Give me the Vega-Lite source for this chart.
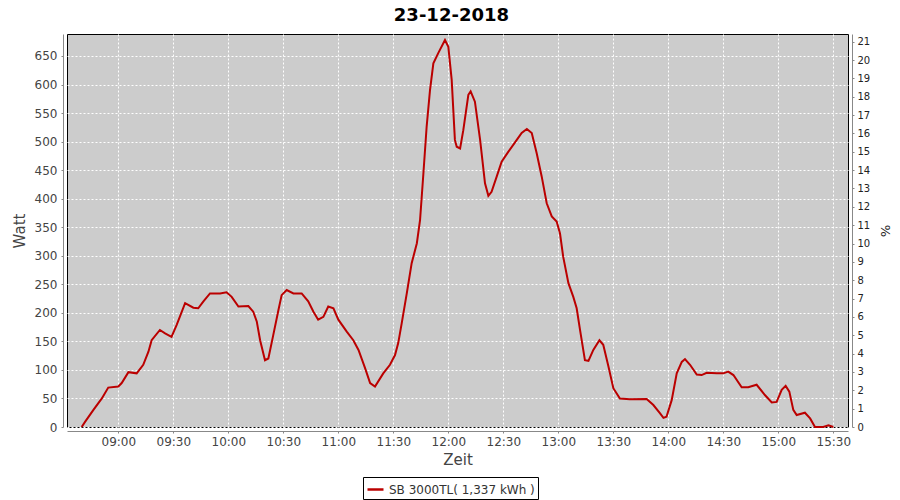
{
  "$schema": "https://vega.github.io/schema/vega-lite/v6.json",
  "autosize": "none",
  "width": 781,
  "height": 393,
  "padding": {"left": 67, "top": 34, "right": 52, "bottom": 73},
  "background": "white",
  "title": {"text": "23-12-2018", "font": "DejaVu Sans", "fontSize": 18, "fontWeight": "bold", "color": "black", "anchor": "middle", "frame": "bounds", "offset": 6},
  "config": {
    "view": {"fill": "#CCCCCC", "stroke": "black", "strokeWidth": 1},
    "axis": {"labelFont": "DejaVu Sans", "titleFont": "DejaVu Sans", "domainColor": "#888888", "tickColor": "#888888", "gridColor": "white", "gridDash": [2, 2], "gridOpacity": 1, "gridWidth": 1}
  },
  "layer": [
    {
      "data": {"values": [
        {"time": "2018-12-23T08:40:00", "watt": 0},
        {"time": "2018-12-23T08:41:50", "watt": 9},
        {"time": "2018-12-23T08:46:25", "watt": 30},
        {"time": "2018-12-23T08:51:00", "watt": 50},
        {"time": "2018-12-23T08:54:30", "watt": 69},
        {"time": "2018-12-23T09:00:00", "watt": 71},
        {"time": "2018-12-23T09:01:50", "watt": 77},
        {"time": "2018-12-23T09:05:30", "watt": 96},
        {"time": "2018-12-23T09:10:00", "watt": 94},
        {"time": "2018-12-23T09:13:35", "watt": 109},
        {"time": "2018-12-23T09:16:25", "watt": 132},
        {"time": "2018-12-23T09:18:10", "watt": 152},
        {"time": "2018-12-23T09:22:40", "watt": 170},
        {"time": "2018-12-23T09:25:30", "watt": 164},
        {"time": "2018-12-23T09:29:00", "watt": 158},
        {"time": "2018-12-23T09:31:50", "watt": 179},
        {"time": "2018-12-23T09:36:25", "watt": 217},
        {"time": "2018-12-23T09:40:55", "watt": 209},
        {"time": "2018-12-23T09:43:35", "watt": 208},
        {"time": "2018-12-23T09:46:25", "watt": 220},
        {"time": "2018-12-23T09:50:00", "watt": 234},
        {"time": "2018-12-23T09:55:30", "watt": 234},
        {"time": "2018-12-23T09:59:00", "watt": 236},
        {"time": "2018-12-23T10:01:50", "watt": 228},
        {"time": "2018-12-23T10:05:30", "watt": 211},
        {"time": "2018-12-23T10:10:55", "watt": 212},
        {"time": "2018-12-23T10:13:35", "watt": 202},
        {"time": "2018-12-23T10:15:30", "watt": 185},
        {"time": "2018-12-23T10:17:20", "watt": 152},
        {"time": "2018-12-23T10:20:00", "watt": 117},
        {"time": "2018-12-23T10:21:50", "watt": 120},
        {"time": "2018-12-23T10:24:30", "watt": 161},
        {"time": "2018-12-23T10:27:20", "watt": 205},
        {"time": "2018-12-23T10:29:05", "watt": 231},
        {"time": "2018-12-23T10:31:50", "watt": 240},
        {"time": "2018-12-23T10:35:30", "watt": 234},
        {"time": "2018-12-23T10:40:00", "watt": 234},
        {"time": "2018-12-23T10:43:35", "watt": 220},
        {"time": "2018-12-23T10:46:25", "watt": 202},
        {"time": "2018-12-23T10:49:00", "watt": 188},
        {"time": "2018-12-23T10:51:50", "watt": 193},
        {"time": "2018-12-23T10:54:30", "watt": 211},
        {"time": "2018-12-23T10:57:20", "watt": 208},
        {"time": "2018-12-23T11:00:00", "watt": 188},
        {"time": "2018-12-23T11:04:35", "watt": 167},
        {"time": "2018-12-23T11:08:10", "watt": 152},
        {"time": "2018-12-23T11:11:00", "watt": 135},
        {"time": "2018-12-23T11:14:35", "watt": 103},
        {"time": "2018-12-23T11:17:20", "watt": 77},
        {"time": "2018-12-23T11:20:00", "watt": 71},
        {"time": "2018-12-23T11:24:30", "watt": 94},
        {"time": "2018-12-23T11:28:10", "watt": 109},
        {"time": "2018-12-23T11:30:55", "watt": 126},
        {"time": "2018-12-23T11:32:40", "watt": 147},
        {"time": "2018-12-23T11:34:35", "watt": 182},
        {"time": "2018-12-23T11:37:20", "watt": 234},
        {"time": "2018-12-23T11:40:00", "watt": 287},
        {"time": "2018-12-23T11:42:50", "watt": 322},
        {"time": "2018-12-23T11:44:35", "watt": 363},
        {"time": "2018-12-23T11:46:25", "watt": 445},
        {"time": "2018-12-23T11:48:10", "watt": 526},
        {"time": "2018-12-23T11:50:00", "watt": 590},
        {"time": "2018-12-23T11:51:50", "watt": 637},
        {"time": "2018-12-23T11:54:30", "watt": 655},
        {"time": "2018-12-23T11:58:10", "watt": 678},
        {"time": "2018-12-23T12:00:00", "watt": 666},
        {"time": "2018-12-23T12:01:50", "watt": 608},
        {"time": "2018-12-23T12:03:35", "watt": 503},
        {"time": "2018-12-23T12:04:35", "watt": 491},
        {"time": "2018-12-23T12:06:25", "watt": 488},
        {"time": "2018-12-23T12:08:10", "watt": 520},
        {"time": "2018-12-23T12:10:55", "watt": 582},
        {"time": "2018-12-23T12:12:10", "watt": 588},
        {"time": "2018-12-23T12:14:30", "watt": 570},
        {"time": "2018-12-23T12:17:20", "watt": 503},
        {"time": "2018-12-23T12:20:00", "watt": 427},
        {"time": "2018-12-23T12:21:50", "watt": 405},
        {"time": "2018-12-23T12:23:35", "watt": 412},
        {"time": "2018-12-23T12:26:25", "watt": 439},
        {"time": "2018-12-23T12:29:05", "watt": 465},
        {"time": "2018-12-23T12:32:40", "watt": 482},
        {"time": "2018-12-23T12:37:20", "watt": 503},
        {"time": "2018-12-23T12:40:00", "watt": 515},
        {"time": "2018-12-23T12:42:50", "watt": 522},
        {"time": "2018-12-23T12:45:30", "watt": 515},
        {"time": "2018-12-23T12:48:10", "watt": 480},
        {"time": "2018-12-23T12:50:55", "watt": 439},
        {"time": "2018-12-23T12:53:40", "watt": 392},
        {"time": "2018-12-23T12:56:25", "watt": 369},
        {"time": "2018-12-23T12:59:05", "watt": 360},
        {"time": "2018-12-23T13:00:55", "watt": 339},
        {"time": "2018-12-23T13:02:40", "watt": 298},
        {"time": "2018-12-23T13:05:30", "watt": 252},
        {"time": "2018-12-23T13:08:10", "watt": 228},
        {"time": "2018-12-23T13:10:00", "watt": 208},
        {"time": "2018-12-23T13:11:50", "watt": 170},
        {"time": "2018-12-23T13:14:30", "watt": 117},
        {"time": "2018-12-23T13:16:25", "watt": 116},
        {"time": "2018-12-23T13:19:05", "watt": 135},
        {"time": "2018-12-23T13:22:25", "watt": 152},
        {"time": "2018-12-23T13:24:30", "watt": 144},
        {"time": "2018-12-23T13:27:20", "watt": 106},
        {"time": "2018-12-23T13:30:00", "watt": 68},
        {"time": "2018-12-23T13:33:35", "watt": 50},
        {"time": "2018-12-23T13:39:00", "watt": 48.5},
        {"time": "2018-12-23T13:48:10", "watt": 49},
        {"time": "2018-12-23T13:51:50", "watt": 38.5},
        {"time": "2018-12-23T13:55:30", "watt": 24},
        {"time": "2018-12-23T13:57:20", "watt": 16},
        {"time": "2018-12-23T13:59:00", "watt": 18},
        {"time": "2018-12-23T14:01:50", "watt": 47},
        {"time": "2018-12-23T14:04:35", "watt": 94},
        {"time": "2018-12-23T14:07:20", "watt": 114},
        {"time": "2018-12-23T14:09:05", "watt": 119},
        {"time": "2018-12-23T14:11:50", "watt": 109},
        {"time": "2018-12-23T14:15:30", "watt": 92},
        {"time": "2018-12-23T14:18:10", "watt": 91},
        {"time": "2018-12-23T14:20:55", "watt": 95},
        {"time": "2018-12-23T14:26:25", "watt": 94},
        {"time": "2018-12-23T14:30:00", "watt": 94},
        {"time": "2018-12-23T14:32:40", "watt": 97},
        {"time": "2018-12-23T14:35:30", "watt": 91},
        {"time": "2018-12-23T14:40:00", "watt": 69.5},
        {"time": "2018-12-23T14:43:35", "watt": 69.5},
        {"time": "2018-12-23T14:48:10", "watt": 74},
        {"time": "2018-12-23T14:52:40", "watt": 56},
        {"time": "2018-12-23T14:56:25", "watt": 43},
        {"time": "2018-12-23T14:59:05", "watt": 44},
        {"time": "2018-12-23T15:01:50", "watt": 65},
        {"time": "2018-12-23T15:04:00", "watt": 72},
        {"time": "2018-12-23T15:06:00", "watt": 62},
        {"time": "2018-12-23T15:08:10", "watt": 30},
        {"time": "2018-12-23T15:10:00", "watt": 21},
        {"time": "2018-12-23T15:14:30", "watt": 25},
        {"time": "2018-12-23T15:17:20", "watt": 15},
        {"time": "2018-12-23T15:20:00", "watt": 0},
        {"time": "2018-12-23T15:24:30", "watt": 0},
        {"time": "2018-12-23T15:27:20", "watt": 3},
        {"time": "2018-12-23T15:30:00", "watt": 0}
      ]},
      "mark": {"type": "line", "strokeWidth": 2},
      "encoding": {
        "x": {
          "field": "time", "type": "temporal",
          "scale": {"domain": [
            {"year": 2018, "month": 12, "date": 23, "hours": 8, "minutes": 32},
            {"year": 2018, "month": 12, "date": 23, "hours": 15, "minutes": 38}
          ]},
          "axis": {
            "title": "Zeit", "format": "%H:%M",
            "values": [
              {"year": 2018, "month": 12, "date": 23, "hours": 9, "minutes": 0},
              {"year": 2018, "month": 12, "date": 23, "hours": 9, "minutes": 30},
              {"year": 2018, "month": 12, "date": 23, "hours": 10, "minutes": 0},
              {"year": 2018, "month": 12, "date": 23, "hours": 10, "minutes": 30},
              {"year": 2018, "month": 12, "date": 23, "hours": 11, "minutes": 0},
              {"year": 2018, "month": 12, "date": 23, "hours": 11, "minutes": 30},
              {"year": 2018, "month": 12, "date": 23, "hours": 12, "minutes": 0},
              {"year": 2018, "month": 12, "date": 23, "hours": 12, "minutes": 30},
              {"year": 2018, "month": 12, "date": 23, "hours": 13, "minutes": 0},
              {"year": 2018, "month": 12, "date": 23, "hours": 13, "minutes": 30},
              {"year": 2018, "month": 12, "date": 23, "hours": 14, "minutes": 0},
              {"year": 2018, "month": 12, "date": 23, "hours": 14, "minutes": 30},
              {"year": 2018, "month": 12, "date": 23, "hours": 15, "minutes": 0},
              {"year": 2018, "month": 12, "date": 23, "hours": 15, "minutes": 30}
            ],
            "offset": 4, "tickSize": 2, "labelPadding": 3,
            "labelFontSize": 12, "labelColor": "#444444",
            "titleFontSize": 15, "titleFontWeight": "normal", "titleColor": "#444444", "titlePadding": 5,
            "grid": true
          }
        },
        "y": {
          "field": "watt", "type": "quantitative",
          "scale": {"domain": [0, 688.5], "nice": false},
          "axis": {
            "title": "Watt", "orient": "left",
            "values": [0, 50, 100, 150, 200, 250, 300, 350, 400, 450, 500, 550, 600, 650],
            "offset": 4, "tickSize": 2, "labelPadding": 4,
            "labelFontSize": 12, "labelColor": "#444444",
            "titleFontSize": 15, "titleFontWeight": "normal", "titleColor": "#444444", "titlePadding": 7,
            "grid": true
          }
        },
        "color": {
          "datum": "SB 3000TL( 1,337 kWh )",
          "type": "nominal",
          "scale": {"range": ["#BB0000"]},
          "legend": {
            "title": null, "orient": "none", "legendX": 296, "legendY": 443,
            "strokeColor": "black", "fillColor": "white", "padding": 3,
            "symbolType": "stroke", "symbolSize": 256, "symbolStrokeWidth": 2.5,
            "labelFont": "DejaVu Sans", "labelFontSize": 12, "labelColor": "#333333", "labelOffset": 4
          }
        }
      }
    },
    {
      "data": {"values": [{"pct": 0}, {"pct": 21.42}]},
      "mark": {"type": "point", "opacity": 0},
      "encoding": {
        "y": {
          "field": "pct", "type": "quantitative",
          "scale": {"domain": [0, 21.42], "nice": false},
          "axis": {
            "title": "%", "orient": "right",
            "values": [0, 1, 2, 3, 4, 5, 6, 7, 8, 9, 10, 11, 12, 13, 14, 15, 16, 17, 18, 19, 20, 21],
            "offset": 4, "tickSize": 2, "labelPadding": 3,
            "labelFontSize": 10, "labelColor": "#222222",
            "titleFontSize": 13, "titleFontWeight": "normal", "titleColor": "#222222", "titlePadding": 8,
            "grid": false
          }
        }
      }
    }
  ],
  "resolve": {"scale": {"y": "independent"}}
}
